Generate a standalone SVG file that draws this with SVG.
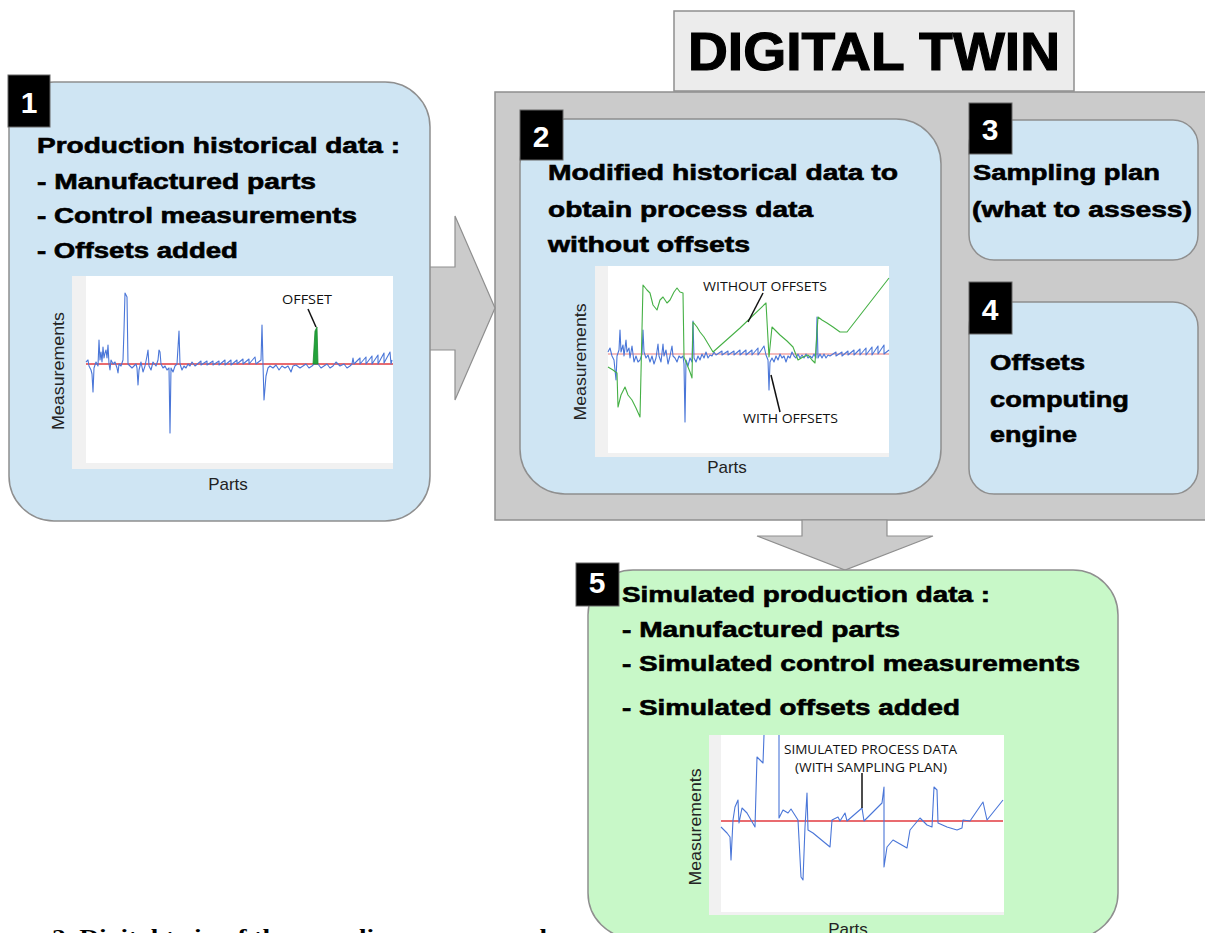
<svg xmlns="http://www.w3.org/2000/svg" width="1205" height="933" viewBox="0 0 1205 933">
<defs>
<style>
.box{fill:#cfe5f3;stroke:#8f8f8f;stroke-width:1.5}
.gbox{fill:#c8f8c8;stroke:#8f8f8f;stroke-width:1.5}
.badge{fill:#000;stroke:#666;stroke-width:1}
.bnum{font-family:"Liberation Sans",Arial,sans-serif;font-weight:bold;font-size:30px;fill:#fff;text-anchor:middle}
.hd{font-family:"Liberation Sans",Arial,sans-serif;font-weight:bold;font-size:22px;fill:#000;stroke:#000;stroke-width:0.6}
.panel{fill:#fff}
.axl{font-family:"Liberation Sans",Arial,sans-serif;font-size:17px;fill:#222}
.ann{font-family:"Open Sans","Liberation Sans",sans-serif;font-size:12.5px;fill:#111}
.blue{fill:none;stroke:#4a76d8;stroke-width:1.1;stroke-linejoin:round}
.green{fill:none;stroke:#45b045;stroke-width:1.1;stroke-linejoin:round}
.red{stroke:#e23a3f;stroke-width:1.5}
.ptr{stroke:#111;stroke-width:1.5}
.arrow{fill:#cbcbcb;stroke:#8f8f8f;stroke-width:1.2}
</style>
</defs>
<rect width="1205" height="933" fill="#fff"/>

<g id="digital-twin">
<rect x="495" y="92" width="720" height="428" fill="#cbcbcb" stroke="#8f8f8f" stroke-width="1.5"/>
</g>
<g id="title">
<rect x="674" y="11" width="400" height="80" fill="#ececec" stroke="#8f8f8f" stroke-width="1.5"/>
<text x="688" y="70" textLength="372" lengthAdjust="spacingAndGlyphs" style="font-family:'Liberation Sans',Arial,sans-serif;font-weight:bold;font-size:54px;fill:#000;stroke:#000;stroke-width:1.2">DIGITAL TWIN</text>
</g>

<g id="connectors">
<polygon class="arrow" points="429,267 455,267 455,216 495,308 455,400 455,350 429,350"/>
<polygon class="arrow" points="802,520 887,520 887,536 933,536 845,570 757,536 802,536"/>
</g>

<g id="node-1">
<rect class="box" x="9" y="82" width="421" height="439" rx="45"/>
<rect class="badge" x="8" y="75" width="42" height="52"/>
<text class="bnum" x="29" y="113">1</text>
<text class="hd" x="37" y="153" textLength="363" lengthAdjust="spacingAndGlyphs">Production historical data :</text>
<text class="hd" x="37" y="189" textLength="279" lengthAdjust="spacingAndGlyphs">- Manufactured parts</text>
<text class="hd" x="37" y="223" textLength="320" lengthAdjust="spacingAndGlyphs">- Control measurements</text>
<text class="hd" x="37" y="258" textLength="201" lengthAdjust="spacingAndGlyphs">- Offsets added</text>
<rect class="panel" x="72" y="276" width="321" height="193"/>
<rect x="72" y="276" width="14" height="193" fill="#f1f1f1"/>
<rect x="72" y="463" width="321" height="6" fill="#f1f1f1"/>
<line class="red" x1="86" y1="364" x2="393" y2="364"/>
<polyline class="blue" points="86,362 88,360 89,366 91,370 92,374 93,392 94,368 96,362 98,366 99,340 100,360 101,352 102,362 103,347 104,358 105,353 106,350 107,358 108,345 109,364 110,370 111,360 113,364 115,362 117,368 118,373 119,364 121,366 123,360 124,330 125,293 126,295 127,297 128,364 130,366 132,368 134,366 136,364 137,368 138,385 139,370 141,362 143,372 145,366 147,356 148,350 149,366 151,370 153,362 156,366 158,360 159,350 160,352 161,364 163,368 165,366 167,370 169,368 170,433 171,368 173,372 175,366 177,364 179,331 180,364 182,370 184,366 186,368 188,364 190,366 192,362 195,366 201,361 201,365 207,361 207,365 213,361 213,365 219,361 219,365 225,360 225,365 231,360 231,365 237,360 237,364 243,359 243,364 249,359 249,364 255,357 256,364 261,360 262,325 263,364 264,400 266,376 268,368 270,366 273,368 276,365 279,370 282,366 285,368 288,366 291,372 293,366 296,365 300,368 303,366 306,364 309,368 312,366 314,364 318,364 321,368 324,366 327,364 330,368 333,366 336,362 340,366 344,364 347,368 350,366 352,364 353,358 354,364 360,358 360,364 366,357 366,364 372,356 372,364 378,355 378,364 384,353 384,363 390,352 391,364 392,360"/>
<polygon points="313,364 315,331 317,327 318,364" fill="#22a33a" stroke="#1b8a2e" stroke-width="0.8"/>
<line class="ptr" x1="308" y1="309" x2="316" y2="327"/>
<text class="ann" x="282" y="304" textLength="50" lengthAdjust="spacingAndGlyphs">OFFSET</text>
<text class="axl" transform="translate(64,371) rotate(-90)" text-anchor="middle" textLength="118" lengthAdjust="spacingAndGlyphs">Measurements</text>
<text class="axl" x="228" y="490" text-anchor="middle">Parts</text>
</g>

<g id="node-2">
<rect class="box" x="520" y="119" width="421" height="375" rx="45"/>
<rect class="badge" x="520" y="110" width="43" height="50"/>
<text class="bnum" x="541" y="147">2</text>
<text class="hd" x="548" y="180" textLength="350" lengthAdjust="spacingAndGlyphs">Modified historical data to</text>
<text class="hd" x="548" y="217" textLength="265" lengthAdjust="spacingAndGlyphs">obtain process data</text>
<text class="hd" x="548" y="252" textLength="202" lengthAdjust="spacingAndGlyphs">without offsets</text>
<rect class="panel" x="595" y="266" width="294" height="191"/>
<rect x="595" y="266" width="13" height="191" fill="#f1f1f1"/>
<rect x="595" y="453" width="294" height="4" fill="#f1f1f1"/>
<line x1="608" y1="354" x2="889" y2="354" stroke="#f2a6a6" stroke-width="1.5"/>
<polyline class="blue" points="608,352 610,348 612,356 614,360 616,380 617,356 619,350 620,330 621,352 623,345 624,356 626,340 627,352 629,348 630,358 632,346 634,362 636,356 638,362 640,360 642,354 643,330 644,352 646,358 648,355 650,362 652,356 654,364 656,358 658,344 659,356 661,362 663,344 664,356 666,350 668,364 670,356 672,346 673,356 675,358 677,362 679,356 681,358 683,356 684,364 685,422 686,360 688,366 690,358 692,362 693,321 694,358 696,362 698,356 700,360 702,354 704,358 706,352 708,358 710,355 712,356 714,352 716,355 722,351 722,355 728,351 728,355 734,351 734,355 740,350 740,355 746,350 746,355 752,350 752,355 758,348 758,355 764,346 766,355 768,360 769,390 770,362 772,358 774,362 776,356 778,360 780,354 782,358 784,356 786,362 788,356 790,358 792,352 794,356 796,358 798,354 800,358 802,355 804,358 806,354 808,358 810,356 812,358 814,354 816,358 817,317 818,358 820,354 822,358 824,354 826,358 828,355 830,356 836,352 836,356 842,352 842,356 848,351 848,355 854,350 854,355 860,349 860,355 866,348 866,355 872,347 872,355 878,346 878,354 884,345 884,354 889,350"/>
<polyline class="green" points="608,367 613,370 617,373 618,407 621,395 625,387 628,395 632,400 636,408 640,417 643,285 647,290 650,293 653,305 657,310 660,300 663,297 667,303 670,300 674,292 677,288 680,292 683,293 684,357 686,362 688,367 690,372 692,378 693,322 697,327 700,332 704,337 707,342 713,352 740,328 766,303 769,357 772,327 776,331 780,335 787,341 793,347 798,360 803,357 808,355 812,360 815,363 818,317 822,320 827,323 833,327 840,332 847,332 868,305 889,278"/>
<line class="ptr" x1="763" y1="293" x2="748" y2="322"/>
<line class="ptr" x1="780" y1="412" x2="771" y2="375"/>
<text class="ann" x="703" y="291" textLength="124" lengthAdjust="spacingAndGlyphs">WITHOUT OFFSETS</text>
<text class="ann" x="743" y="423" textLength="95" lengthAdjust="spacingAndGlyphs">WITH OFFSETS</text>
<text class="axl" transform="translate(586,362) rotate(-90)" text-anchor="middle" textLength="117" lengthAdjust="spacingAndGlyphs">Measurements</text>
<text class="axl" x="727" y="473" text-anchor="middle">Parts</text>
</g>

<g id="node-3">
<rect class="box" x="969" y="120" width="229" height="140" rx="25"/>
<rect class="badge" x="969" y="103" width="43" height="51"/>
<text class="bnum" x="990" y="140">3</text>
<text class="hd" x="973" y="180" textLength="187" lengthAdjust="spacingAndGlyphs">Sampling plan</text>
<text class="hd" x="972" y="217" textLength="220" lengthAdjust="spacingAndGlyphs">(what to assess)</text>
</g>

<g id="node-4">
<rect class="box" x="969" y="302" width="229" height="192" rx="25"/>
<rect class="badge" x="969" y="282" width="43" height="52"/>
<text class="bnum" x="990" y="320">4</text>
<text class="hd" x="990" y="370" textLength="95" lengthAdjust="spacingAndGlyphs">Offsets</text>
<text class="hd" x="990" y="407" textLength="139" lengthAdjust="spacingAndGlyphs">computing</text>
<text class="hd" x="990" y="442" textLength="87" lengthAdjust="spacingAndGlyphs">engine</text>
</g>

<g id="node-5">
<rect class="gbox" x="588" y="570" width="530" height="368" rx="45"/>
<rect class="badge" x="576" y="563" width="43" height="43"/>
<text class="bnum" x="597" y="593">5</text>
<text class="hd" x="622" y="602" textLength="368" lengthAdjust="spacingAndGlyphs">Simulated production data :</text>
<text class="hd" x="622" y="637" textLength="278" lengthAdjust="spacingAndGlyphs">- Manufactured parts</text>
<text class="hd" x="622" y="671" textLength="458" lengthAdjust="spacingAndGlyphs">- Simulated control measurements</text>
<text class="hd" x="622" y="715" textLength="338" lengthAdjust="spacingAndGlyphs">- Simulated offsets added</text>
<rect class="panel" x="709" y="735" width="295" height="180"/>
<rect x="709" y="735" width="12" height="180" fill="#f1f1f1"/>
<rect x="709" y="912" width="295" height="3" fill="#f1f1f1"/>
<line class="red" x1="721" y1="821" x2="1003" y2="821"/>
<polyline class="blue" points="721,827 727,833 730,837 731,860 733,820 735,807 738,800 739,823 742,808 747,813 755,827 757,757 763,763 764,735"/>
<polyline class="blue" points="779,735 779,818 783,810 788,813 791,809 798,820 801,877 803,880 805,827 807,793 808,830 813,833 830,847 832,820 838,817 840,821 845,813 847,821 862,808 864,821 882,803 884,787 884,867 887,847 893,840 907,848 910,830 920,818 927,825 932,827 934,787 937,790 938,823 947,827 957,830 962,828 963,820 970,821 983,802 987,820 1003,800"/>
<line class="ptr" x1="862" y1="773" x2="862" y2="808"/>
<text class="ann" x="784" y="754" textLength="173" lengthAdjust="spacingAndGlyphs">SIMULATED PROCESS DATA</text>
<text class="ann" x="795" y="772" textLength="152" lengthAdjust="spacingAndGlyphs">(WITH SAMPLING PLAN)</text>
<text class="axl" transform="translate(701,827) rotate(-90)" text-anchor="middle" textLength="117" lengthAdjust="spacingAndGlyphs">Measurements</text>
<text class="axl" x="848" y="935" text-anchor="middle">Parts</text>
</g>

<text x="52" y="944" textLength="495" lengthAdjust="spacingAndGlyphs" style="font-family:'Liberation Serif','Times New Roman',serif;font-weight:bold;font-size:22px;fill:#000">2. Digital twin of the sampling process and</text>
</svg>
